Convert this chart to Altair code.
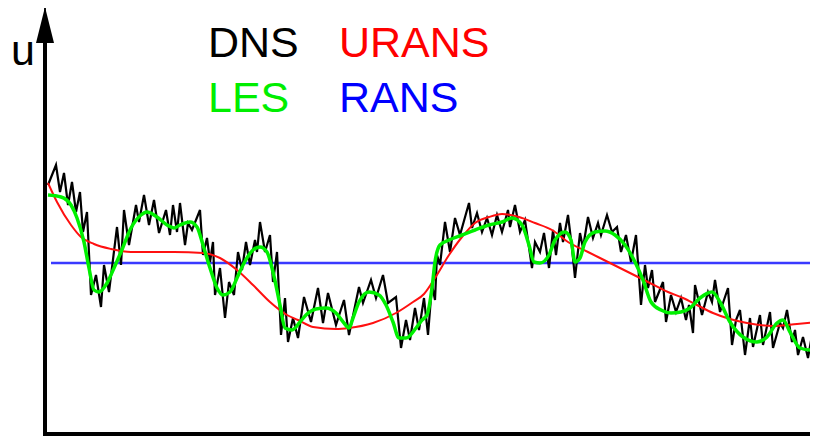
import altair as alt
import pandas as pd

# ---- data (t: time units, u: velocity units) ----
series = ["DNS", "LES", "URANS", "RANS"]
colors = ["#000000", "#00f000", "#ff1010", "#3a3aff"]

t_dns = [3, 11, 15, 19, 23, 27, 31, 35, 38, 42, 46, 51, 56, 59, 64, 72, 76, 79, 84, 91,
         94, 99, 104, 109, 114, 121, 125, 128, 132, 135, 140, 143, 147, 155, 158, 162, 165, 168, 170, 175,
         180, 184, 189, 193, 197, 201, 205, 210, 212, 215, 220, 225, 228, 232, 236, 240, 243, 248, 253, 259,
         266, 273, 278, 283, 291, 299, 304, 314, 318, 326, 331, 338, 343, 351, 356, 361, 365, 370, 374, 379,
         383, 387, 390, 392, 395, 400, 405, 410, 415, 424, 427, 432, 437, 442, 447, 452, 457, 463, 465, 470,
         475, 480, 487, 490, 495, 499, 504, 508, 511, 515, 518, 523, 527, 530, 535, 538, 543, 548, 553, 556,
         562, 567, 572, 576, 581, 586, 591, 596, 600, 603, 607, 610, 618, 621, 626, 631, 636, 641, 644, 648,
         650, 657, 663, 667, 670, 675, 683, 687, 691, 695, 700, 705, 708, 715, 718, 725, 728, 735, 738, 742,
         747, 750, 753, 758, 763, 767, 770, 773]
u_dns = [255, 275, 248, 267, 235, 258, 228, 248, 208, 228, 145, 165, 133, 175, 148, 213, 175, 230, 195, 235,
         218, 245, 215, 240, 207, 230, 205, 235, 208, 237, 195, 217, 210, 230, 185, 202, 178, 198, 145, 172,
         122, 158, 145, 188, 170, 198, 175, 200, 188, 218, 188, 205, 158, 188, 105, 142, 98, 122, 102, 143,
         118, 152, 117, 147, 115, 140, 105, 153, 137, 160, 142, 165, 137, 143, 92, 120, 100, 132, 110, 142,
         105, 155, 140, 185, 175, 218, 188, 222, 205, 237, 212, 227, 208, 222, 205, 225, 208, 230, 213, 235,
         208, 220, 172, 198, 188, 207, 172, 210, 185, 217, 198, 225, 192, 162, 207, 192, 223, 202, 217, 205,
         225, 208, 213, 188, 205, 178, 205, 135, 175, 152, 170, 138, 158, 118, 145, 128, 142, 120, 135, 107,
         155, 125, 148, 138, 160, 128, 152, 95, 120, 130, 85, 122, 93, 125, 95, 128, 92, 117, 112, 130,
         98, 110, 85, 103, 82, 105, 85, 108]

t_les = [3, 16, 26, 32, 39, 44, 49, 54, 62, 69, 76, 86, 96, 102, 112, 122, 129, 135, 145, 152,
         158, 165, 172, 178, 185, 192, 198, 208, 215, 222, 228, 235, 240, 247, 255, 261, 271, 281, 291, 299,
         304, 308, 314, 324, 334, 341, 348, 354, 361, 371, 377, 382, 387, 390, 395, 404, 417, 430, 444, 457,
         467, 477, 484, 489, 495, 504, 510, 520, 526, 530, 535, 540, 550, 560, 570, 580, 590, 598, 606, 616,
         626, 636, 645, 655, 667, 675, 685, 698, 712, 722, 732, 738, 745, 755, 765, 773]
u_les = [245, 243, 235, 222, 198, 172, 150, 148, 157, 172, 188, 212, 225, 228, 223, 215, 212, 215, 218, 213,
         195, 172, 152, 145, 148, 162, 175, 190, 193, 188, 168, 135, 112, 110, 118, 125, 131, 132, 127, 117,
         112, 122, 138, 148, 145, 135, 118, 102, 102, 112, 120, 125, 152, 178, 195, 200, 205, 210, 215, 218,
         222, 215, 195, 178, 177, 185, 200, 208, 200, 178, 182, 198, 208, 209, 205, 195, 178, 160, 138, 130,
         127, 128, 132, 142, 148, 138, 118, 103, 98, 103, 117, 120, 108, 92, 90, 100]

t_urans = [3, 12, 26, 36, 49, 66, 86, 129, 158, 175, 192, 208, 225, 242, 253, 268, 291, 304, 328, 351,
           368, 379, 390, 404, 417, 430, 444, 457, 474, 490, 507, 523, 543, 563, 583, 603, 623, 638, 652, 668,
           685, 702, 728, 752, 773]
u_urans = [257, 238, 215, 203, 196, 191, 188, 188, 187, 182, 170, 155, 138, 125, 120, 113, 111, 112, 117, 127,
           138, 146, 162, 185, 203, 217, 223, 226, 223, 217, 210, 198, 188, 178, 168, 158, 148, 142, 135, 127,
           121, 117, 114, 116, 118]

t_rans = [6, 773]
u_rans = [177, 177]

# ---- scales: t = 0 sits on the vertical axis ----
xs = alt.Scale(domain=[0, 765], range=[37, 802], nice=False, zero=False)
ys = alt.Scale(domain=[6, 432], range=[426, 0], nice=False, zero=False)


def enc(ch):
    return ch.encode(
        x=alt.X("t:Q", scale=xs, axis=None),
        y=alt.Y("u:Q", scale=ys, axis=None),
    )


df_dns = pd.DataFrame({"t": t_dns, "u": u_dns})
df_les = pd.DataFrame({"t": t_les, "u": u_les})
df_urans = pd.DataFrame({"t": t_urans, "u": u_urans})
df_rans = pd.DataFrame({"t": t_rans, "u": u_rans})

rans = enc(alt.Chart(df_rans).mark_line(color=colors[3], strokeWidth=2.5, clip=True))
dns = enc(alt.Chart(df_dns).mark_line(color=colors[0], strokeWidth=2.2, clip=True, strokeJoin="miter"))
urans = enc(alt.Chart(df_urans).mark_line(color=colors[2], strokeWidth=2, interpolate="monotone", clip=True))
les = enc(alt.Chart(df_les).mark_line(color=colors[1], strokeWidth=3.5, interpolate="monotone", clip=True))

# ---- axes drawn as thick lines with an arrow on u ----
axis_v = alt.Chart(pd.DataFrame({"t": [0], "u": [6], "u2": [420]})).mark_rule(
    color="black", strokeWidth=4).encode(
    x=alt.X("t:Q", scale=xs, axis=None), y=alt.Y("u:Q", scale=ys, axis=None), y2="u2:Q")
stem = alt.Chart(pd.DataFrame({"t": [0], "u": [420], "u2": [432]})).mark_rule(
    color="#222222", strokeWidth=2).encode(
    x=alt.X("t:Q", scale=xs, axis=None), y=alt.Y("u:Q", scale=ys, axis=None), y2="u2:Q")
arrow = alt.Chart(pd.DataFrame({"t": [0], "u": [415]})).mark_point(
    shape="M0,-1L0.5,1L-0.5,1Z", size=1296, filled=True, color="black", opacity=1).encode(
    x=alt.X("t:Q", scale=xs, axis=None), y=alt.Y("u:Q", scale=ys, axis=None))
axis_h = alt.Chart(pd.DataFrame({"t": [-2], "t2": [773], "u": [6]})).mark_rule(
    color="black", strokeWidth=4, clip=True).encode(
    x=alt.X("t:Q", scale=xs, axis=None), x2="t2:Q", y=alt.Y("u:Q", scale=ys, axis=None))


def label(text, color, x, y):
    return alt.Chart(pd.DataFrame({"label": [text]})).mark_text(
        align="left", baseline="alphabetic", font="Liberation Sans", fontSize=43, color=color
    ).encode(x=alt.value(x), y=alt.value(y), text="label:N")


texts = [
    label("u", "black", 3, 57),
    label(series[0], colors[0], 200, 49),
    label(series[2], "#ff0000", 331, 49),
    label(series[1], "#00ee00", 200, 104),
    label(series[3], "#0000ff", 331, 104),
]

chart = alt.layer(rans, dns, urans, les, axis_v, stem, arrow, axis_h, *texts).properties(
    width=802, height=428,
    autosize=alt.AutoSizeParams(type="none"),
    padding=0,
    background="white",
).configure_view(stroke=None)

chart.save("out.html", embed_options={"renderer": "svg", "actions": False})
